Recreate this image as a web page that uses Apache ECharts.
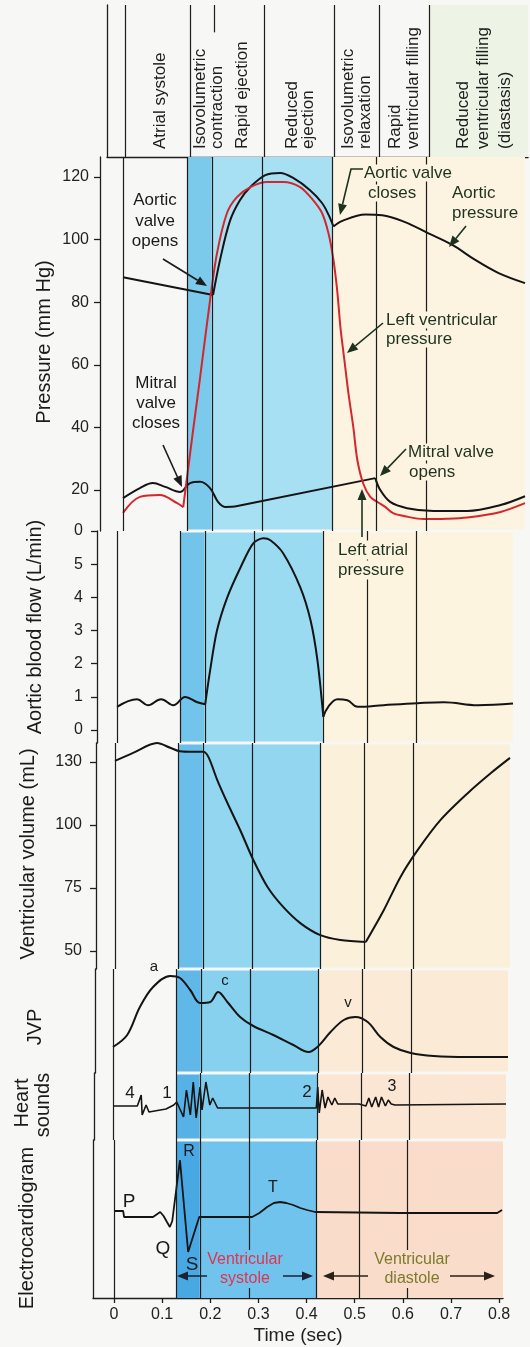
<!DOCTYPE html>
<html><head><meta charset="utf-8">
<script src="https://cdn.jsdelivr.net/npm/echarts@6/dist/echarts.min.js"></script>
<style>html,body{margin:0;padding:0;background:#f7f7f5}#c{width:530px;height:1347px}</style>
</head><body><div id="c"></div>
<script>
// ---------- data ----------
const phaseTimes = [0, 0.13, 0.178, 0.28, 0.42, 0.51, 0.61, 0.808];
const timeTicks = [0, 0.1, 0.2, 0.3, 0.4, 0.5, 0.6, 0.7, 0.8];
const timeTickLabels = ['0', '0.1', '0.2', '0.3', '0.4', '0.5', '0.6', '0.7', '0.8'];
const pressureTicks = [20, 40, 60, 80, 100, 120];
const flowTicks = [0, 1, 2, 3, 4, 5, 6];
const flowTickLabels = ['0', '1', '2', '3', '4', '5', '0'];
const volumeTicks = [50, 75, 100, 125];
const volumeTickLabels = ['50', '75', '100', '130'];

const aorticPressureFall = [[0, 88], [0.181, 82.3]];
const aorticPressureEjection = [[0.181, 82.3], [0.195, 93.5], [0.215, 106], [0.235, 112.6], [0.256, 116.8], [0.286, 120.6], [0.316, 121.3], [0.342, 119.7], [0.376, 115.8], [0.400, 111.7], [0.413, 108], [0.423, 104.2]];
const aorticPressureDiastole = [[0.423, 104.2], [0.441, 106], [0.487, 108], [0.521, 107.8], [0.567, 105.6], [0.614, 102], [0.662, 98.3], [0.708, 93.5], [0.755, 89.3], [0.808, 86.1]];

const lvPressureAtrial = [[0, 12.7], [0.034, 17.8], [0.074, 18.4], [0.109, 15.8], [0.121, 14.5]];
const lvPressureSystole = [[0.121, 14.5], [0.14, 38], [0.155, 56], [0.175, 80.7], [0.189, 95.7], [0.209, 108.5], [0.229, 113.6], [0.256, 116.8], [0.290, 118.4], [0.322, 118.4], [0.356, 116.8], [0.380, 113], [0.400, 108.5], [0.413, 102], [0.423, 93.5], [0.431, 83], [0.437, 72], [0.445, 61.5], [0.453, 51], [0.463, 40], [0.471, 29.6], [0.483, 22], [0.497, 17.8], [0.513, 16], [0.527, 14.6], [0.543, 12.6], [0.567, 11.6], [0.604, 10.7], [0.650, 10.8], [0.692, 11.2], [0.759, 13], [0.808, 15.8]];

const atrialPressureA = [[0, 17.4], [0.034, 20.6], [0.060, 22.2], [0.085, 21], [0.115, 19.4], [0.121, 19.8]];
const atrialPressureC = [[0.121, 19.8], [0.135, 22.2], [0.155, 22.6], [0.175, 20.6], [0.191, 16.2], [0.205, 14.6], [0.225, 14.7]];
const atrialPressureRise = [[0.225, 14.7], [0.507, 23.8]];
const atrialPressureFilling = [[0.507, 23.8], [0.517, 20], [0.537, 16.2], [0.571, 14.2], [0.624, 13.3], [0.692, 13.3], [0.759, 15.2], [0.808, 18]];

const aorticFlowPre = [[0, 0.7], [0.041, 0.93], [0.063, 0.75], [0.090, 0.93], [0.115, 0.75], [0.139, 1.0], [0.164, 0.84], [0.180, 0.78]];
const aorticFlowEjection = [[0.180, 0.78], [0.190, 1.8], [0.204, 3.0], [0.225, 4.0], [0.252, 4.9], [0.278, 5.63], [0.299, 5.78], [0.313, 5.72], [0.339, 5.33], [0.374, 4.3], [0.395, 3.3], [0.409, 2.1], [0.421, 0.4]];
const aorticFlowPost = [[0.421, 0.4], [0.431, 0.7], [0.450, 0.93], [0.470, 0.9], [0.491, 0.7], [0.544, 0.75], [0.613, 0.81], [0.667, 0.84], [0.736, 0.75], [0.808, 0.8]];

const volumeEjection = [[0, 125.4], [0.037, 128.6], [0.086, 132.5], [0.113, 130.6], [0.133, 129.2], [0.160, 129], [0.180, 129], [0.191, 127], [0.209, 117.9], [0.230, 108.7], [0.256, 98], [0.283, 86.1], [0.312, 75.4], [0.344, 67.5], [0.379, 61.1], [0.420, 56.3], [0.461, 54.4], [0.513, 53.6]];
const volumeFilling = [[0.513, 53.6], [0.550, 66.3], [0.584, 79.4], [0.619, 90], [0.666, 102], [0.722, 112.7], [0.769, 120.6], [0.808, 126.6]];

const jvp = [[0, 2.6], [0.029, 3.8], [0.055, 6.6], [0.082, 8.6], [0.117, 9.7], [0.137, 9.5], [0.158, 8.3], [0.178, 7.0], [0.199, 7.1], [0.215, 8.1], [0.234, 7.1], [0.260, 5.6], [0.287, 4.7], [0.328, 3.8], [0.369, 2.8], [0.400, 2.1], [0.418, 2.6], [0.445, 4.1], [0.472, 5.3], [0.496, 5.6], [0.521, 5.1], [0.547, 3.6], [0.574, 2.6], [0.609, 2.0], [0.656, 1.7], [0.726, 1.6], [0.808, 1.6]];

const heartSounds = [[0, 0], [0.050, 0], [0.058, 1.1], [0.060, -0.9], [0.068, 0.1], [0.074, -0.6], [0.109, -0.3], [0.125, 0.1], [0.131, 0.4], [0.145, -1.1], [0.151, 1.6], [0.159, -0.9], [0.165, 2.4], [0.171, -1.2], [0.179, 1.9], [0.183, -0.4], [0.191, 2.4], [0.199, 0.1], [0.205, 0.8], [0.215, -0.2], [0.418, -0.2], [0.421, 1.9], [0.424, -0.7], [0.430, 1.6], [0.436, -0.2], [0.442, 0.9], [0.450, 0.1], [0.456, 0.8], [0.462, 0.2], [0.506, 0.2], [0.520, 0], [0.526, 0.8], [0.532, -0.1], [0.540, 0.9], [0.546, -0.1], [0.552, 0.9], [0.560, 0], [0.566, 0.6], [0.572, 0.2], [0.580, 0.1], [0.808, 0.2]];

const ecg = [[0, 0], [0.019, 0], [0.021, -0.6], [0.081, -0.6], [0.090, -0.3], [0.096, -0.1], [0.103, -0.5], [0.110, -1.1], [0.116, -1.6], [0.121, -1.0], [0.137, 5.1], [0.154, -4.1], [0.177, -0.6], [0.287, -0.6], [0.302, -0.2], [0.318, 0.4], [0.332, 0.8], [0.345, 0.9], [0.358, 0.8], [0.372, 0.6], [0.387, 0.3], [0.401, 0.1], [0.418, -0.1], [0.593, -0.2], [0.796, -0.2], [0.806, 0.1]];

// ---------- layout ----------
const FONT = '"Liberation Sans", Arial, Helvetica, sans-serif';
const tEnd = phaseTimes[phaseTimes.length - 1];
const panels = [
  { key: 'hdr',   top: 5,    bottom: 157,  axisX: 107, x0: 125, xR: 528, min: 0,     max: 1 },
  { key: 'pres',  top: 157,  bottom: 531,  axisX: 100, x0: 123, xR: 525, min: 6.9,   max: 126.4, colors: ['#7bc9eb', '#a8e0f3', '#fcf3e0'] },
  { key: 'flow',  top: 531,  bottom: 743,  axisX: 97,  x0: 117, xR: 513, min: -0.39, max: 6.0,   colors: ['#72c4ea', '#9bdbf1', '#fcf4de'] },
  { key: 'vol',   top: 743,  bottom: 969,  axisX: 96,  x0: 115, xR: 510, min: 42.9,  max: 132.5, colors: ['#69bfe9', '#92d6f0', '#fbf0da'] },
  { key: 'jvp',   top: 969,  bottom: 1073, axisX: 95,  x0: 113, xR: 508, min: 0,     max: 10.4,  colors: ['#5fb8e7', '#87d1ef', '#fbebd6'] },
  { key: 'heart', top: 1073, bottom: 1140, axisX: 94,  x0: 113, xR: 506, min: -3.4,  max: 3.3,   colors: ['#56b2e6', '#7ecdef', '#fae6d2'] },
  { key: 'ecg',   top: 1140, bottom: 1298, axisX: 93,  x0: 114, xR: 503, min: -8.7,  max: 7.1,   colors: ['#48a8e3', '#6fc3ed', '#f9dcc9'] }
];
const IDX = {}; panels.forEach((p, i) => IDX[p.key] = i);

const grids = [], xAxes = [], yAxes = [], series = [];
const AX = '#1e1e1e';

panels.forEach((p, i) => {
  const scale = (p.xR - p.x0) / tEnd;
  grids.push({ left: p.axisX, top: p.top, width: p.xR - p.axisX, height: p.bottom - p.top, containLabel: false });
  const xa = { gridIndex: i, type: 'value', min: -(p.x0 - p.axisX) / scale, max: tEnd, show: false, splitLine: { show: false } };
  if (p.key === 'hdr') {
    Object.assign(xa, { show: true, position: 'top', axisLine: { show: true, lineStyle: { color: AX, width: 1.3 } }, axisTick: { show: false }, axisLabel: { show: false } });
  }
  if (p.key === 'ecg') {
    Object.assign(xa, {
      show: true, position: 'bottom',
      axisLine: { show: true, onZero: false, lineStyle: { color: AX, width: 1.4 } },
      axisTick: { show: true, inside: false, length: 5, customValues: timeTicks, lineStyle: { color: AX, width: 1.3 } },
      axisLabel: { show: true, customValues: timeTicks, margin: 9, color: '#222', fontSize: 16, fontFamily: FONT,
        formatter: v => { const k = timeTicks.findIndex(t => Math.abs(t - v) < 1e-6); return k >= 0 ? timeTickLabels[k] : ''; } },
      name: 'Time (sec)', nameLocation: 'middle', nameGap: 28,
      nameTextStyle: { color: '#222', fontSize: 19, fontFamily: FONT }
    });
  }
  xAxes.push(xa);

  const ya = { gridIndex: i, type: 'value', min: p.min, max: p.max, splitLine: { show: false },
    axisLine: { show: true, onZero: false, lineStyle: { color: AX, width: 1.3 } }, axisTick: { show: false }, axisLabel: { show: false } };
  let ticks = null, labels = null, margin = 12;
  if (p.key === 'pres') { ticks = pressureTicks; labels = pressureTicks.map(String); margin = 11; }
  if (p.key === 'flow') { ticks = flowTicks; labels = flowTickLabels; margin = 14; }
  if (p.key === 'vol') { ticks = volumeTicks; labels = volumeTickLabels; margin = 14; }
  if (ticks) {
    ya.axisTick = { show: true, inside: false, length: 6, customValues: ticks, lineStyle: { color: AX, width: 1.3 } };
    ya.axisLabel = { show: true, customValues: ticks, margin, color: '#222', fontSize: 16, fontFamily: FONT,
      formatter: v => { const k = ticks.findIndex(t => Math.abs(t - v) < 1e-6); return k >= 0 ? labels[k] : ''; } };
  }
  yAxes.push(ya);
});

function curve(key, data, color, smooth, width) {
  const i = IDX[key];
  return { type: 'line', xAxisIndex: i, yAxisIndex: i, data, smooth, showSymbol: false, symbol: 'none',
    lineStyle: { color, width: width || 2 }, silent: true, z: 3, animation: false };
}

// background bands + phase lines for each panel
panels.forEach((p, i) => {
  const s = { type: 'line', xAxisIndex: i, yAxisIndex: i, data: [[tEnd / 2, p.min - 100]], showSymbol: false, symbol: 'none',
    lineStyle: { opacity: 0 }, silent: true, animation: false };
  const lineStyle = { color: '#1c1c1c', width: 1.2, type: 'solid' };
  if (p.key === 'hdr') {
    s.markArea = { silent: true, data: [[{ xAxis: phaseTimes[6], yAxis: p.min, itemStyle: { color: '#edf3e5' } }, { xAxis: phaseTimes[7], yAxis: p.max }]] };
    const full = phaseTimes.filter((t, k) => k !== 2).map(t => ({ xAxis: t }));
    const partial = [[{ coord: [phaseTimes[2], 1] }, { coord: [phaseTimes[2], 0.82] }]];
    s.markLine = { silent: true, symbol: ['none', 'none'], label: { show: false }, lineStyle, animation: false, data: full.concat(partial) };
  } else {
    const d = 1.5 * (p.max - p.min) / (p.bottom - p.top);
    const lo = p.key === 'ecg' ? p.min : p.min + d;
    const hi = p.key === 'pres' ? p.max : p.max - d;
    const bands = [[phaseTimes[1], phaseTimes[2], p.colors[0]], [phaseTimes[2], phaseTimes[4], p.colors[1]], [phaseTimes[4], phaseTimes[7], p.colors[2]]];
    s.markArea = { silent: true, data: bands.map(b => [{ xAxis: b[0], yAxis: lo, itemStyle: { color: b[2] } }, { xAxis: b[1], yAxis: hi }]) };
    s.markLine = { silent: true, symbol: ['none', 'none'], label: { show: false }, lineStyle, animation: false, data: phaseTimes.map(t => ({ xAxis: t })) };
  }
  series.push(s);
});

const BLACK = '#141414', RED = '#d3262d';
series.push(
  curve('pres', aorticPressureFall, BLACK, false),
  curve('pres', aorticPressureEjection, BLACK, 0.35),
  curve('pres', aorticPressureDiastole, BLACK, 0.35),
  curve('pres', atrialPressureA, BLACK, 0.35),
  curve('pres', atrialPressureC, BLACK, 0.35),
  curve('pres', atrialPressureRise, BLACK, false),
  curve('pres', atrialPressureFilling, BLACK, 0.35),
  curve('pres', lvPressureAtrial, RED, 0.35),
  curve('pres', lvPressureSystole, RED, 0.3),
  curve('flow', aorticFlowPre, BLACK, 0.4),
  curve('flow', aorticFlowEjection, BLACK, 0.3),
  curve('flow', aorticFlowPost, BLACK, 0.4),
  curve('vol', volumeEjection, BLACK, 0.3),
  curve('vol', volumeFilling, BLACK, 0.3),
  curve('jvp', jvp, BLACK, 0.35),
  curve('heart', heartSounds, BLACK, false, 1.6),
  curve('ecg', ecg, BLACK, false, 1.8)
);

// ---------- text & annotation graphics ----------
const G = [];
function txt(x, y, text, o) {
  o = o || {};
  const st = { text, fill: o.color || '#1a1a1a', font: (o.size || 17) + 'px ' + FONT,
    textAlign: o.align || 'left', align: o.align || 'left',
    textVerticalAlign: o.va || 'middle', verticalAlign: o.va || 'middle' };
  if (o.lh) st.lineHeight = o.lh;
  if (o.bg) { st.backgroundColor = o.bg; st.padding = o.pad || [0, 2]; }
  G.push({ type: 'text', x, y, rotation: o.rot || 0, z: 100, silent: true, style: st });
}
function head(x1, y1, x2, y2, color) {
  const a = Math.atan2(y2 - y1, x2 - x1), L = 11, W = 4.5;
  const bx = x2 - L * Math.cos(a), by = y2 - L * Math.sin(a);
  const px = -Math.sin(a) * W, py = Math.cos(a) * W;
  G.push({ type: 'polygon', z: 101, silent: true, shape: { points: [[x2, y2], [bx + px, by + py], [bx - px, by - py]] }, style: { fill: color } });
  return [bx, by];
}
function arrow(pts, color, lw) {
  color = color || '#1a1a1a';
  const n = pts.length;
  const b = head(pts[n - 2][0], pts[n - 2][1], pts[n - 1][0], pts[n - 1][1], color);
  const line = pts.slice(0, n - 1).concat([b]);
  G.push({ type: 'polyline', z: 101, silent: true, shape: { points: line }, style: { stroke: color, lineWidth: lw || 1.6, fill: null } });
}
const R90 = Math.PI / 2;

// header column labels
const hdr = [
  [160, 'Atrial systole'], [200, 'Isovolumetric'], [217, 'contraction'], [242, 'Rapid ejection'],
  [292, 'Reduced'], [308, 'ejection'], [348, 'Isovolumetric'], [365, 'relaxation'],
  [395, 'Rapid'], [413, 'ventricular filling'], [463, 'Reduced'], [483, 'ventricular filling'], [505, '(diastasis)']
];
hdr.forEach(h => txt(h[0], 149, h[1], { rot: R90, align: 'left', size: 17, color: '#202020' }));

// axis titles
txt(44, 342, 'Pressure (mm Hg)', { rot: R90, align: 'center', size: 20 });
txt(35, 627, 'Aortic blood flow (L/min)', { rot: R90, align: 'center', size: 20 });
txt(28, 854, 'Ventricular volume (mL)', { rot: R90, align: 'center', size: 20 });
txt(35, 1027, 'JVP', { rot: R90, align: 'center', size: 20 });
txt(22, 1103, 'Heart', { rot: R90, align: 'center', size: 20 });
txt(43, 1105, 'sounds', { rot: R90, align: 'center', size: 20 });
txt(27, 1228, 'Electrocardiogram', { rot: R90, align: 'center', size: 20 });

// pressure annotations
const DG = '#1d3320';
txt(155, 221, 'Aortic\nvalve\nopens', { align: 'center', lh: 20.5 });
arrow([[163, 259], [207, 286]]);
txt(156, 403, 'Mitral\nvalve\ncloses', { align: 'center', lh: 20 });
arrow([[163, 445], [182, 487]]);
txt(362, 173, 'Aortic valve', { color: DG, bg: '#fcf3e0' });
txt(366, 193, 'closes', { color: DG, bg: '#fcf3e0' });
arrow([[363, 169], [351, 169], [340, 215]], DG);
txt(452, 193, 'Aortic', { color: DG });
txt(452, 213, 'pressure', { color: DG });
arrow([[466, 226], [449, 247]], DG);
txt(384, 320, 'Left ventricular', { color: DG, bg: '#fcf3e0' });
txt(384, 339, 'pressure', { color: DG, bg: '#fcf3e0' });
arrow([[383, 323], [347, 353]], DG);
txt(406, 452, 'Mitral valve', { color: DG, bg: '#fcf3e0' });
txt(407, 472, 'opens', { color: DG, bg: '#fcf3e0' });
arrow([[406, 449], [380, 476]], DG);
txt(336, 550, 'Left atrial', { color: DG, bg: '#fcf4de', pad: [1, 2] });
txt(336, 570, 'pressure', { color: DG, bg: '#fcf4de', pad: [1, 2] });
arrow([[362, 537], [362, 489]], DG);

// JVP wave labels
txt(154, 967, 'a', { align: 'center', size: 15 });
txt(225, 981, 'c', { align: 'center', size: 15 });
txt(348, 1003, 'v', { align: 'center', size: 15 });
// heart sound labels
txt(130, 1093, '4', { align: 'center', size: 17 });
txt(167, 1093, '1', { align: 'center', size: 17 });
txt(307, 1092, '2', { align: 'center', size: 17 });
txt(392, 1087, '3', { align: 'center', size: 16 });
// ECG labels
txt(129, 1202, 'P', { align: 'center', size: 19 });
txt(163, 1249, 'Q', { align: 'center', size: 19 });
txt(189, 1152, 'R', { align: 'center', size: 16 });
txt(192, 1265, 'S', { align: 'center', size: 19 });
txt(273, 1188, 'T', { align: 'center', size: 16 });
// systole / diastole
txt(245, 1269, 'Ventricular\nsystole', { align: 'center', size: 16, lh: 19, color: '#e0344f', bg: '#6fc3ed', pad: [0, 1] });
arrow([[207, 1276], [177, 1276]], '#1a2233', 1.5);
arrow([[283, 1276], [313, 1276]], '#1a2233', 1.5);
txt(412, 1269, 'Ventricular\ndiastole', { align: 'center', size: 16, lh: 19, color: '#7d7a2c', bg: '#f9dcc9', pad: [0, 1] });
arrow([[368, 1276], [323, 1276]], '#2a2018', 1.5);
arrow([[450, 1276], [495, 1276]], '#2a2018', 1.5);

const chart = echarts.init(document.getElementById('c'), null, { renderer: 'canvas' });
chart.setOption({
  animation: false,
  backgroundColor: '#f7f7f5',
  grid: grids, xAxis: xAxes, yAxis: yAxes, series,
  graphic: { elements: G }
});
</script>
</body></html>
